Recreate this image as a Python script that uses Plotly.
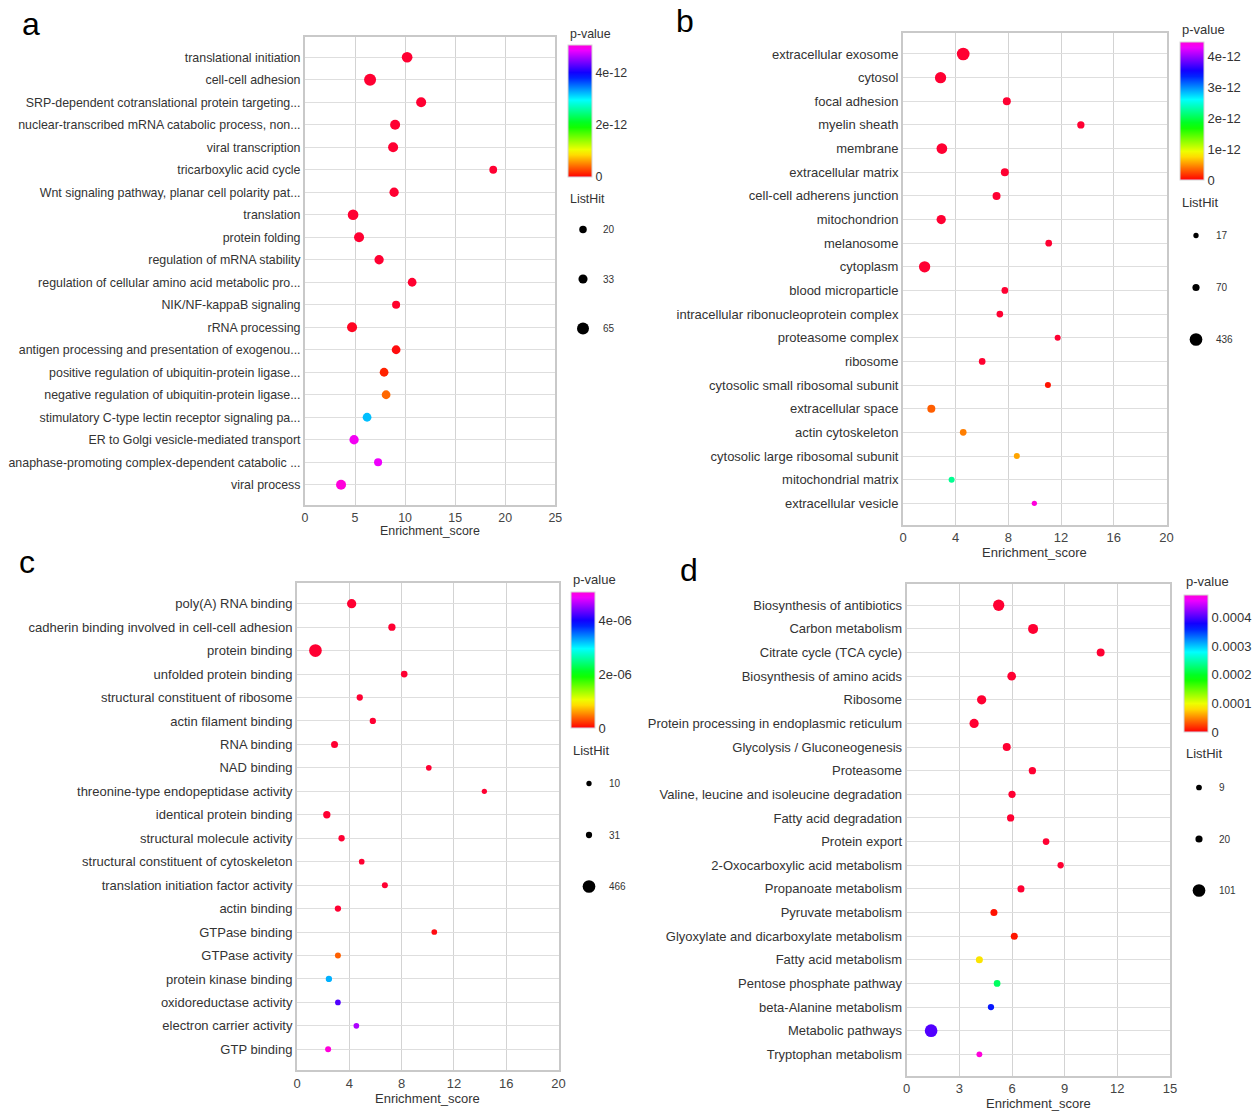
import colorsys
import math
import plotly.graph_objects as go

W, H = 1260, 1111
FONT = "Liberation Sans, Arial, sans-serif"

# ---------------- data ----------------
a_terms = ["translational initiation", "cell-cell adhesion",
           "SRP-dependent cotranslational protein targeting...",
           "nuclear-transcribed mRNA catabolic process, non...",
           "viral transcription", "tricarboxylic acid cycle",
           "Wnt signaling pathway, planar cell polarity pat...",
           "translation", "protein folding", "regulation of mRNA stability",
           "regulation of cellular amino acid metabolic pro...",
           "NIK/NF-kappaB signaling", "rRNA processing",
           "antigen processing and presentation of exogenou...",
           "positive regulation of ubiquitin-protein ligase...",
           "negative regulation of ubiquitin-protein ligase...",
           "stimulatory C-type lectin receptor signaling pa...",
           "ER to Golgi vesicle-mediated transport",
           "anaphase-promoting complex-dependent catabolic ...",
           "viral process"]
a_score = [10.2, 6.5, 11.6, 9.0, 8.8, 18.8, 8.9, 4.8, 5.4, 7.4,
           10.7, 9.1, 4.7, 9.1, 7.9, 8.1, 6.2, 4.9, 7.3, 3.6]
a_hits = [49, 65, 42, 42, 42, 22, 35, 49, 42, 35,
          30, 24, 42, 30, 30, 30, 30, 35, 24, 42]
a_pval = [1.5e-24, 3.8e-22, 6.2e-21, 1.1e-19, 4.5e-19, 2.3e-18, 8.9e-18,
          3.1e-17, 1.2e-16, 5.6e-16, 2.4e-15, 7.8e-15, 1.9e-14, 4.4e-14,
          1.3e-13, 4.0e-13, 3.21e-12, 4.94e-12, 4.88e-12, 5.08e-12]
a_size_breaks = [20, 33, 65]
a_xticks = [0, 5, 10, 15, 20, 25]
a_cticks = [0, 2e-12, 4e-12]
a_ctext = ["0", "2e-12", "4e-12"]

b_terms = ["extracellular exosome", "cytosol", "focal adhesion", "myelin sheath",
           "membrane", "extracellular matrix", "cell-cell adherens junction",
           "mitochondrion", "melanosome", "cytoplasm", "blood microparticle",
           "intracellular ribonucleoprotein complex", "proteasome complex",
           "ribosome", "cytosolic small ribosomal subunit", "extracellular space",
           "actin cytoskeleton", "cytosolic large ribosomal subunit",
           "mitochondrial matrix", "extracellular vesicle"]
b_score = [4.57, 2.85, 7.88, 13.5, 2.95, 7.73, 7.1, 2.9, 11.06, 1.64,
           7.73, 7.35, 11.74, 6.01, 11.0, 2.15, 4.57, 8.64, 3.69, 9.97]
b_hits = [436, 314, 105, 75, 267, 105, 105, 174, 53, 314,
          53, 53, 33, 53, 33, 105, 53, 33, 33, 17]
b_pval = [2.0e-40, 5.1e-35, 3.3e-30, 1.4e-28, 6.7e-26, 2.2e-24, 9.0e-23,
          4.1e-21, 1.7e-19, 6.3e-18, 2.8e-17, 1.1e-16, 4.9e-16, 2.0e-15,
          6.0e-14, 3.2e-13, 4.3e-13, 5.6e-13, 2.23e-12, 4.47e-12]
b_size_breaks = [17, 70, 436]
b_xticks = [0, 4, 8, 12, 16, 20]
b_cticks = [0, 1e-12, 2e-12, 3e-12, 4e-12]
b_ctext = ["0", "1e-12", "2e-12", "3e-12", "4e-12"]

c_terms = ["poly(A) RNA binding", "cadherin binding involved in cell-cell adhesion",
           "protein binding", "unfolded protein binding",
           "structural constituent of ribosome", "actin filament binding",
           "RNA binding", "NAD binding", "threonine-type endopeptidase activity",
           "identical protein binding", "structural molecule activity",
           "structural constituent of cytoskeleton",
           "translation initiation factor activity", "actin binding",
           "GTPase binding", "GTPase activity", "protein kinase binding",
           "oxidoreductase activity", "electron carrier activity", "GTP binding"]
c_score = [4.18, 7.26, 1.41, 8.2, 4.8, 5.8, 2.87, 10.08, 14.33, 2.28,
           3.41, 4.95, 6.72, 3.13, 10.5, 3.13, 2.44, 3.13, 4.54, 2.38]
c_hits = [172, 66, 466, 44, 32, 32, 55, 17, 10, 66,
          32, 17, 24, 32, 17, 24, 32, 17, 17, 24]
c_pval = [3.0e-30, 2.2e-26, 8.1e-24, 5.5e-21, 1.9e-19, 7.4e-18, 3.0e-16,
          1.2e-15, 4.6e-15, 1.8e-14, 7.1e-13, 2.9e-12, 1.1e-11, 4.2e-11,
          4.0e-8, 3.7e-7, 3.24e-6, 4.23e-6, 4.59e-6, 5.04e-6]
c_size_breaks = [10, 31, 466]
c_xticks = [0, 4, 8, 12, 16, 20]
c_cticks = [0, 2e-6, 4e-6]
c_ctext = ["0", "2e-06", "4e-06"]

d_terms = ["Biosynthesis of antibiotics", "Carbon metabolism",
           "Citrate cycle (TCA cycle)", "Biosynthesis of amino acids", "Ribosome",
           "Protein processing in endoplasmic reticulum",
           "Glycolysis / Gluconeogenesis", "Proteasome",
           "Valine, leucine and isoleucine degradation", "Fatty acid degradation",
           "Protein export", "2-Oxocarboxylic acid metabolism",
           "Propanoate metabolism", "Pyruvate metabolism",
           "Glyoxylate and dicarboxylate metabolism", "Fatty acid metabolism",
           "Pentose phosphate pathway", "beta-Alanine metabolism",
           "Metabolic pathways", "Tryptophan metabolism"]
d_score = [5.24, 7.2, 11.05, 5.98, 4.27, 3.84, 5.7, 7.16, 6.0, 5.92,
           7.94, 8.77, 6.51, 4.97, 6.13, 4.14, 5.15, 4.8, 1.39, 4.14]
d_hits = [75, 54, 28, 36, 44, 44, 28, 21, 21, 21,
          16, 13, 19, 19, 19, 19, 16, 13, 101, 10]
d_pval = [1.2e-20, 3.4e-18, 2.1e-16, 7.7e-15, 2.5e-14, 9.3e-14, 4.0e-13,
          1.6e-12, 5.8e-12, 2.0e-11, 7.3e-11, 2.6e-10, 9.9e-10, 6.0e-6,
          8.0e-6, 8.5e-5, 2.22e-4, 3.67e-4, 4.03e-4, 4.8e-4]
d_size_breaks = [9, 20, 101]
d_xticks = [0, 3, 6, 9, 12, 15]
d_cticks = [0, 1e-4, 2e-4, 3e-4, 4e-4]
d_ctext = ["0", "0.0001", "0.0002", "0.0003", "0.0004"]

# ---------------- styling / layout helpers ----------------
HUE_END = 308.57 / 360.0  # rainbow(7) in R ends at hue 6/7


def hue_rgb(f):
    r, g, b = colorsys.hsv_to_rgb(f * HUE_END, 1, 1)
    return "rgb(%d,%d,%d)" % (round(r * 255), round(g * 255), round(b * 255))


colorscale = [[0.0, "#FF0032"], [0.012, hue_rgb(0.012)]]
for i in range(1, 25):
    colorscale.append([i / 24, hue_rgb(i / 24)])

panels = [
    dict(terms=a_terms, score=a_score, hits=a_hits, pval=a_pval, breaks=a_size_breaks,
         xticks=a_xticks, cticks=a_cticks, ctext=a_ctext, size=(1.9, 1.253), fs=12.4,
         xpx=(305, 555.3), ypx=(37, 505), cb=(568, 45, 132), leg=(583, 225, 49.5),
         letter=("a", 20, 24), pv=(568, 34), lh=(568, 199), xt=531),
    dict(terms=b_terms, score=b_score, hits=b_hits, pval=b_pval, breaks=b_size_breaks,
         xticks=b_xticks, cticks=b_cticks, ctext=b_ctext, size=(3.48, 0.4415), fs=13,
         xpx=(903, 1166.5), ypx=(32.7, 524.6), cb=(1180, 42, 137.5), leg=(1196, 231, 52),
         letter=("b", 674, 21), pv=(1180, 29), lh=(1180, 202), xt=552),
    dict(terms=c_terms, score=c_score, hits=c_hits, pval=c_pval, breaks=c_size_breaks,
         xticks=c_xticks, cticks=c_cticks, ctext=c_ctext, size=(4.03, 0.4015), fs=13,
         xpx=(297, 558.5), ypx=(582.6, 1070.4), cb=(571, 592, 136), leg=(589, 779, 51.5),
         letter=("c", 17, 562), pv=(571, 579), lh=(571, 750), xt=1098),
    dict(terms=d_terms, score=d_score, hits=d_hits, pval=d_pval, breaks=d_size_breaks,
         xticks=d_xticks, cticks=d_cticks, ctext=d_ctext, size=(2.72, 0.993), fs=13,
         xpx=(906.7, 1170), ypx=(584, 1075.6), cb=(1184, 595, 137), leg=(1199, 783, 51.5),
         letter=("d", 678, 570), pv=(1184, 581), lh=(1184, 753), xt=1103),
]


def px_x(v):
    return v / W


def px_y(v):
    return 1 - v / H


fig = go.Figure()
annotations = []
layout = dict(
    width=W, height=H, margin=dict(l=0, r=0, t=0, b=0),
    paper_bgcolor="white", plot_bgcolor="white", template="none",
    font=dict(family=FONT, size=12, color="#333333"),
    showlegend=True,
)

for k, p in enumerate(panels):
    sfx = "" if k == 0 else str(k + 1)
    fs = p["fs"]
    c0, c1 = p["size"]
    sizes = [c0 + c1 * math.sqrt(v) for v in p["hits"]]
    cax = "coloraxis" + sfx
    fig.add_trace(go.Scatter(
        x=p["score"], y=p["terms"], mode="markers",
        xaxis="x" + sfx, yaxis="y" + sfx, showlegend=False,
        marker=dict(size=sizes, sizemode="diameter", color=p["pval"],
                    coloraxis=cax, line=dict(width=0), opacity=1),
    ))
    legname = "legend" + sfx
    for j, bv in enumerate(p["breaks"]):
        fig.add_trace(go.Scatter(
            x=[None], y=[None], mode="markers", name=str(bv),
            xaxis="x" + sfx, yaxis="y" + sfx,
            legend=legname, legendgroup="g%d_%d" % (k, j), showlegend=True,
            marker=dict(size=c0 + c1 * math.sqrt(bv), color="black", line=dict(width=0)),
        ))
    n = len(p["terms"])
    x0, x1 = p["xpx"]
    y0, y1 = p["ypx"]
    layout["xaxis" + sfx] = dict(
        domain=[px_x(x0), px_x(x1)], anchor="y" + sfx,
        range=[p["xticks"][0], p["xticks"][-1]], tickvals=p["xticks"],
        showgrid=True, gridcolor="#d3d3d3", gridwidth=1.1, zeroline=False,
        showline=True, mirror=True, linecolor="#c9c9c9", linewidth=2,
        ticks="", tickfont=dict(size=fs, color="#444444"), automargin=False,
    )
    layout["yaxis" + sfx] = dict(
        domain=[px_y(y1), px_y(y0)], anchor="x" + sfx, type="category",
        categoryorder="array", categoryarray=p["terms"],
        range=[n - 1 + 0.9, -0.9],
        showgrid=True, gridcolor="#dedede", gridwidth=1.4, zeroline=False,
        showline=True, mirror=True, linecolor="#c9c9c9", linewidth=2,
        ticks="", ticklabelstandoff=0, tickfont=dict(size=fs, color="#333333"),
        automargin=False,
    )
    cbx, cby, cbl = p["cb"]
    layout[cax] = dict(
        cmin=0, cmax=max(p["pval"]), colorscale=colorscale,
        colorbar=dict(
            x=px_x(cbx), xanchor="left", y=px_y(cby), yanchor="top",
            len=cbl, lenmode="pixels", thickness=24, thicknessmode="pixels",
            xpad=0, ypad=0, outlinewidth=1, outlinecolor="#d6d6d6",
            tickvals=p["cticks"], ticktext=p["ctext"], ticks="",
            tickfont=dict(size=fs, color="#333333"),
        ),
    )
    lx, ly, lgap = p["leg"]
    layout[legname] = dict(
        x=px_x(lx - 20), xanchor="left", y=px_y(ly - 10), yanchor="top",
        bgcolor="rgba(0,0,0,0)", borderwidth=0, itemsizing="trace",
        tracegroupgap=lgap - 19, font=dict(size=10, color="#333333"),
        itemclick=False, itemdoubleclick=False,
    )
    let, lxp, lyp = p["letter"]
    annotations.append(dict(text=let, x=px_x(lxp), y=px_y(lyp), xref="paper", yref="paper",
                            xanchor="left", yanchor="middle", showarrow=False,
                            font=dict(size=32, color="black", family=FONT)))
    annotations.append(dict(text="p-value", x=px_x(p["pv"][0]), y=px_y(p["pv"][1]),
                            xref="paper", yref="paper", xanchor="left", yanchor="middle",
                            showarrow=False, font=dict(size=fs, color="#333333")))
    annotations.append(dict(text="ListHit", x=px_x(p["lh"][0]), y=px_y(p["lh"][1]),
                            xref="paper", yref="paper", xanchor="left", yanchor="middle",
                            showarrow=False, font=dict(size=fs, color="#333333")))
    annotations.append(dict(text="Enrichment_score", x=px_x((x0 + x1) / 2), y=px_y(p["xt"]),
                            xref="paper", yref="paper", xanchor="center", yanchor="middle",
                            showarrow=False, font=dict(size=fs, color="#333333")))

layout["annotations"] = annotations
fig.update_layout(**layout)
fig.write_html("out.html")
